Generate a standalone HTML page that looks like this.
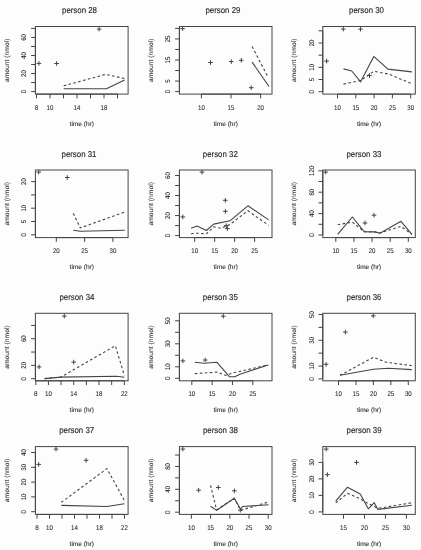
<!DOCTYPE html>
<html><head><meta charset="utf-8"><title>plots</title>
<style>
html,body{margin:0;padding:0;background:#fdfdfd;}
body{width:421px;height:550px;overflow:hidden;}
svg{display:block;will-change:transform;}
text{font-family:"Liberation Sans",sans-serif;fill:#2a2a2a;text-anchor:middle;text-rendering:geometricPrecision;}
.tk{font-size:6.9px;stroke:#2a2a2a;stroke-width:0.08px;}
.lb{font-size:6.4px;stroke:#2a2a2a;stroke-width:0.08px;}
.ti{font-size:8.6px;stroke:#2a2a2a;stroke-width:0.15px;}
.ax{fill:none;stroke:#444444;stroke-width:1;}
.sl{fill:none;stroke:#444444;stroke-width:1.1;stroke-linejoin:round;}
.dl{fill:none;stroke:#444444;stroke-width:1.1;stroke-dasharray:2.6 2.4;}
.pt{fill:none;stroke:#444444;stroke-width:1;}
</style></head>
<body>
<svg width="421" height="550" viewBox="0 0 421 550">
<rect width="421" height="550" fill="#fdfdfd"/>
<!-- person 28 -->
<g><rect x="35.4" y="26.5" width="92.7" height="67.6" class="ax"/>
<path d="M36.5 94.1v4.3 M50 94.1v4.3 M63.5 94.1v4.3 M77 94.1v4.3 M90.5 94.1v4.3 M104 94.1v4.3 M117.5 94.1v4.3 M36.5 94.1H117.5 M35.4 91.6h-4.3 M35.4 82.57h-4.3 M35.4 73.54h-4.3 M35.4 64.51h-4.3 M35.4 55.49h-4.3 M35.4 46.46h-4.3 M35.4 37.43h-4.3 M35.4 28.4h-4.3 M35.4 91.6V28.4" class="ax"/>
<text x="36.5" y="109.7" class="tk" textLength="3.5" lengthAdjust="spacingAndGlyphs">8</text>
<text x="50" y="109.7" class="tk" textLength="6.8" lengthAdjust="spacingAndGlyphs">10</text>
<text x="77" y="109.7" class="tk" textLength="6.8" lengthAdjust="spacingAndGlyphs">14</text>
<text x="104" y="109.7" class="tk" textLength="6.8" lengthAdjust="spacingAndGlyphs">18</text>
<text transform="translate(26.4 91.6) rotate(-90)" class="tk" textLength="3.5" lengthAdjust="spacingAndGlyphs">0</text>
<text transform="translate(26.4 73.54) rotate(-90)" class="tk" textLength="6.8" lengthAdjust="spacingAndGlyphs">20</text>
<text transform="translate(26.4 55.49) rotate(-90)" class="tk" textLength="6.8" lengthAdjust="spacingAndGlyphs">40</text>
<text transform="translate(26.4 37.43) rotate(-90)" class="tk" textLength="6.8" lengthAdjust="spacingAndGlyphs">60</text>
<text x="79.5" y="12.7" class="ti" textLength="35" lengthAdjust="spacingAndGlyphs">person 28</text>
<text x="81.75" y="125.6" class="lb" textLength="24.3" lengthAdjust="spacingAndGlyphs">time (hr)</text>
<text transform="translate(9 60.3) rotate(-90)" class="lb" textLength="43.4" lengthAdjust="spacingAndGlyphs">amount (nmol)</text>
<polyline points="63.7,88.7 106.5,88.7 124.6,79.9" class="sl"/>
<polyline points="63.7,85.8 105.7,74.4 124.5,78.5" class="dl"/>
<path d="M36.6 63.4h4.6M38.9 61.1v4.6 M54.3 63.5h4.6M56.6 61.2v4.6 M96.8 29.1h4.6M99.1 26.8v4.6" class="pt"/></g>
<!-- person 29 -->
<g><rect x="179.4" y="26.5" width="92.6" height="67.6" class="ax"/>
<path d="M201.4 94.1v4.3 M231 94.1v4.3 M260.6 94.1v4.3 M201.4 94.1H260.6 M179.4 91.6h-4.3 M179.4 81.07h-4.3 M179.4 70.53h-4.3 M179.4 60h-4.3 M179.4 49.47h-4.3 M179.4 38.93h-4.3 M179.4 28.4h-4.3 M179.4 91.6V28.4" class="ax"/>
<text x="201.4" y="109.7" class="tk" textLength="6.8" lengthAdjust="spacingAndGlyphs">10</text>
<text x="231" y="109.7" class="tk" textLength="6.8" lengthAdjust="spacingAndGlyphs">15</text>
<text x="260.6" y="109.7" class="tk" textLength="6.8" lengthAdjust="spacingAndGlyphs">20</text>
<text transform="translate(170.4 91.6) rotate(-90)" class="tk" textLength="3.5" lengthAdjust="spacingAndGlyphs">0</text>
<text transform="translate(170.4 81.07) rotate(-90)" class="tk" textLength="3.5" lengthAdjust="spacingAndGlyphs">5</text>
<text transform="translate(170.4 60) rotate(-90)" class="tk" textLength="6.8" lengthAdjust="spacingAndGlyphs">15</text>
<text transform="translate(170.4 38.93) rotate(-90)" class="tk" textLength="6.8" lengthAdjust="spacingAndGlyphs">25</text>
<text x="222.9" y="12.6" class="ti" textLength="35" lengthAdjust="spacingAndGlyphs">person 29</text>
<text x="225.7" y="125.6" class="lb" textLength="24.3" lengthAdjust="spacingAndGlyphs">time (hr)</text>
<text transform="translate(153 60.3) rotate(-90)" class="lb" textLength="43.4" lengthAdjust="spacingAndGlyphs">amount (nmol)</text>
<polyline points="252.1,62.1 269,86.5" class="sl"/>
<polyline points="252.1,46.6 268.2,77.4" class="dl"/>
<path d="M180.3 28.6h4.6M182.6 26.3v4.6 M208.2 62.5h4.6M210.5 60.2v4.6 M229 61.6h4.6M231.3 59.3v4.6 M239 60.3h4.6M241.3 58v4.6 M248.9 87.7h4.6M251.2 85.4v4.6" class="pt"/></g>
<!-- person 30 -->
<g><rect x="322.8" y="26.5" width="92.5" height="67.6" class="ax"/>
<path d="M337.5 94.1v4.3 M355.8 94.1v4.3 M374.1 94.1v4.3 M392.4 94.1v4.3 M410.7 94.1v4.3 M337.5 94.1H410.7 M322.8 91.7h-4.3 M322.8 79.52h-4.3 M322.8 67.34h-4.3 M322.8 55.16h-4.3 M322.8 42.98h-4.3 M322.8 30.8h-4.3 M322.8 91.7V30.8" class="ax"/>
<text x="337.5" y="109.7" class="tk" textLength="6.8" lengthAdjust="spacingAndGlyphs">10</text>
<text x="355.8" y="109.7" class="tk" textLength="6.8" lengthAdjust="spacingAndGlyphs">15</text>
<text x="374.1" y="109.7" class="tk" textLength="6.8" lengthAdjust="spacingAndGlyphs">20</text>
<text x="392.4" y="109.7" class="tk" textLength="6.8" lengthAdjust="spacingAndGlyphs">25</text>
<text x="410.7" y="109.7" class="tk" textLength="6.8" lengthAdjust="spacingAndGlyphs">30</text>
<text transform="translate(313.8 91.7) rotate(-90)" class="tk" textLength="3.5" lengthAdjust="spacingAndGlyphs">0</text>
<text transform="translate(313.8 79.52) rotate(-90)" class="tk" textLength="3.5" lengthAdjust="spacingAndGlyphs">5</text>
<text transform="translate(313.8 67.34) rotate(-90)" class="tk" textLength="6.8" lengthAdjust="spacingAndGlyphs">10</text>
<text transform="translate(313.8 42.98) rotate(-90)" class="tk" textLength="6.8" lengthAdjust="spacingAndGlyphs">20</text>
<text x="366.5" y="12.6" class="ti" textLength="35" lengthAdjust="spacingAndGlyphs">person 30</text>
<text x="369.05" y="125.6" class="lb" textLength="24.3" lengthAdjust="spacingAndGlyphs">time (hr)</text>
<text transform="translate(296.4 60.3) rotate(-90)" class="lb" textLength="43.4" lengthAdjust="spacingAndGlyphs">amount (nmol)</text>
<polyline points="343.5,68.9 351.8,71 360.6,81.8 373.8,56.4 387.8,69.1 411.9,71.9" class="sl"/>
<polyline points="343.5,84.1 360.6,80.5 374,71.2 389,74.2 411.9,83.8" class="dl"/>
<path d="M324.3 61.1h4.6M326.6 58.8v4.6 M341 29.1h4.6M343.3 26.8v4.6 M358.2 29.1h4.6M360.5 26.8v4.6 M367.2 75.6h4.6M369.5 73.3v4.6" class="pt"/></g>
<!-- person 31 -->
<g><rect x="35.4" y="170" width="92.7" height="67.6" class="ax"/>
<path d="M56.3 237.6v4.3 M84.6 237.6v4.3 M112.9 237.6v4.3 M56.3 237.6H112.9 M35.4 234.8h-4.3 M35.4 221.5h-4.3 M35.4 208.2h-4.3 M35.4 194.9h-4.3 M35.4 181.6h-4.3 M35.4 234.8V181.6" class="ax"/>
<text x="56.3" y="253.2" class="tk" textLength="6.8" lengthAdjust="spacingAndGlyphs">20</text>
<text x="84.6" y="253.2" class="tk" textLength="6.8" lengthAdjust="spacingAndGlyphs">25</text>
<text x="112.9" y="253.2" class="tk" textLength="6.8" lengthAdjust="spacingAndGlyphs">30</text>
<text transform="translate(26.4 234.8) rotate(-90)" class="tk" textLength="3.5" lengthAdjust="spacingAndGlyphs">0</text>
<text transform="translate(26.4 221.5) rotate(-90)" class="tk" textLength="3.5" lengthAdjust="spacingAndGlyphs">5</text>
<text transform="translate(26.4 208.2) rotate(-90)" class="tk" textLength="6.8" lengthAdjust="spacingAndGlyphs">10</text>
<text transform="translate(26.4 181.6) rotate(-90)" class="tk" textLength="6.8" lengthAdjust="spacingAndGlyphs">20</text>
<text x="79" y="156.9" class="ti" textLength="35" lengthAdjust="spacingAndGlyphs">person 31</text>
<text x="81.75" y="269.1" class="lb" textLength="24.3" lengthAdjust="spacingAndGlyphs">time (hr)</text>
<text transform="translate(9 203.8) rotate(-90)" class="lb" textLength="43.4" lengthAdjust="spacingAndGlyphs">amount (nmol)</text>
<polyline points="73.3,230.2 80.3,231.2 124.8,230.2" class="sl"/>
<polyline points="73.3,213.3 80.3,227.9 124.8,212" class="dl"/>
<path d="M36.4 172.1h4.6M38.7 169.8v4.6 M65 177.5h4.6M67.3 175.2v4.6" class="pt"/></g>
<!-- person 32 -->
<g><rect x="179.4" y="170" width="92.6" height="67.6" class="ax"/>
<path d="M194.7 237.6v4.3 M214.67 237.6v4.3 M234.63 237.6v4.3 M254.6 237.6v4.3 M194.7 237.6H254.6 M179.4 235.6h-4.3 M179.4 225.58h-4.3 M179.4 215.57h-4.3 M179.4 205.55h-4.3 M179.4 195.53h-4.3 M179.4 185.52h-4.3 M179.4 175.5h-4.3 M179.4 235.6V175.5" class="ax"/>
<text x="194.7" y="253.2" class="tk" textLength="6.8" lengthAdjust="spacingAndGlyphs">10</text>
<text x="214.67" y="253.2" class="tk" textLength="6.8" lengthAdjust="spacingAndGlyphs">15</text>
<text x="234.63" y="253.2" class="tk" textLength="6.8" lengthAdjust="spacingAndGlyphs">20</text>
<text x="254.6" y="253.2" class="tk" textLength="6.8" lengthAdjust="spacingAndGlyphs">25</text>
<text transform="translate(170.4 235.6) rotate(-90)" class="tk" textLength="3.5" lengthAdjust="spacingAndGlyphs">0</text>
<text transform="translate(170.4 215.57) rotate(-90)" class="tk" textLength="6.8" lengthAdjust="spacingAndGlyphs">20</text>
<text transform="translate(170.4 195.53) rotate(-90)" class="tk" textLength="6.8" lengthAdjust="spacingAndGlyphs">40</text>
<text transform="translate(170.4 175.5) rotate(-90)" class="tk" textLength="6.8" lengthAdjust="spacingAndGlyphs">60</text>
<text x="220.3" y="156.9" class="ti" textLength="35" lengthAdjust="spacingAndGlyphs">person 32</text>
<text x="225.7" y="269.1" class="lb" textLength="24.3" lengthAdjust="spacingAndGlyphs">time (hr)</text>
<text transform="translate(153 203.8) rotate(-90)" class="lb" textLength="43.4" lengthAdjust="spacingAndGlyphs">amount (nmol)</text>
<polyline points="191.1,228.3 197.1,226 206.4,230.5 213.7,224.1 229.9,220.8 247.9,205.8 268.7,219.9" class="sl"/>
<polyline points="191.1,233.7 197.1,233.2 206.4,233.8 213.7,226.8 221,228.4 229.9,224.4 247.9,210.8 268.7,225.4" class="dl"/>
<path d="M180.5 216.9h4.6M182.8 214.6v4.6 M199.7 172.1h4.6M202 169.8v4.6 M223 200.3h4.6M225.3 198v4.6 M223.1 211.3h4.6M225.4 209v4.6 M224 225.7h4.6M226.3 223.4v4.6 M225.1 228.6h4.6M227.4 226.3v4.6" class="pt"/></g>
<!-- person 33 -->
<g><rect x="322.8" y="170" width="92.5" height="67.6" class="ax"/>
<path d="M335.8 237.6v4.3 M353.93 237.6v4.3 M372.05 237.6v4.3 M390.18 237.6v4.3 M408.3 237.6v4.3 M335.8 237.6H408.3 M322.8 235h-4.3 M322.8 224.3h-4.3 M322.8 213.6h-4.3 M322.8 202.9h-4.3 M322.8 192.2h-4.3 M322.8 181.5h-4.3 M322.8 170.8h-4.3 M322.8 235V170.8" class="ax"/>
<text x="335.8" y="253.2" class="tk" textLength="6.8" lengthAdjust="spacingAndGlyphs">10</text>
<text x="353.93" y="253.2" class="tk" textLength="6.8" lengthAdjust="spacingAndGlyphs">15</text>
<text x="372.05" y="253.2" class="tk" textLength="6.8" lengthAdjust="spacingAndGlyphs">20</text>
<text x="390.18" y="253.2" class="tk" textLength="6.8" lengthAdjust="spacingAndGlyphs">25</text>
<text x="408.3" y="253.2" class="tk" textLength="6.8" lengthAdjust="spacingAndGlyphs">30</text>
<text transform="translate(313.8 235) rotate(-90)" class="tk" textLength="3.5" lengthAdjust="spacingAndGlyphs">0</text>
<text transform="translate(313.8 213.6) rotate(-90)" class="tk" textLength="6.8" lengthAdjust="spacingAndGlyphs">40</text>
<text transform="translate(313.8 192.2) rotate(-90)" class="tk" textLength="6.8" lengthAdjust="spacingAndGlyphs">80</text>
<text transform="translate(313.8 170.8) rotate(-90)" class="tk" textLength="10.2" lengthAdjust="spacingAndGlyphs">120</text>
<text x="363.9" y="156.9" class="ti" textLength="35" lengthAdjust="spacingAndGlyphs">person 33</text>
<text x="369.05" y="269.1" class="lb" textLength="24.3" lengthAdjust="spacingAndGlyphs">time (hr)</text>
<text transform="translate(296.4 203.8) rotate(-90)" class="lb" textLength="43.4" lengthAdjust="spacingAndGlyphs">amount (nmol)</text>
<polyline points="337.7,234.4 352.3,217 364.4,231.8 375,231.9 380,233.3 401,221.3 411.9,234.3" class="sl"/>
<polyline points="337.7,224.8 352.3,222 364.4,231.8 375,232 380,233 401,226.4 411.9,234.3" class="dl"/>
<path d="M323.4 172.1h4.6M325.7 169.8v4.6 M362.7 223h4.6M365 220.7v4.6 M371.7 215.2h4.6M374 212.9v4.6" class="pt"/></g>
<!-- person 34 -->
<g><rect x="35.4" y="313.3" width="92.7" height="67.5" class="ax"/>
<path d="M35.8 380.8v4.3 M48.44 380.8v4.3 M61.09 380.8v4.3 M73.73 380.8v4.3 M86.37 380.8v4.3 M99.01 380.8v4.3 M111.66 380.8v4.3 M124.3 380.8v4.3 M35.8 380.8H124.3 M35.4 378.7h-4.3 M35.4 365.38h-4.3 M35.4 352.05h-4.3 M35.4 338.72h-4.3 M35.4 325.4h-4.3 M35.4 378.7V325.4" class="ax"/>
<text x="35.8" y="396.4" class="tk" textLength="3.5" lengthAdjust="spacingAndGlyphs">8</text>
<text x="48.44" y="396.4" class="tk" textLength="6.8" lengthAdjust="spacingAndGlyphs">10</text>
<text x="73.73" y="396.4" class="tk" textLength="6.8" lengthAdjust="spacingAndGlyphs">14</text>
<text x="99.01" y="396.4" class="tk" textLength="6.8" lengthAdjust="spacingAndGlyphs">18</text>
<text x="124.3" y="396.4" class="tk" textLength="6.8" lengthAdjust="spacingAndGlyphs">22</text>
<text transform="translate(26.4 378.7) rotate(-90)" class="tk" textLength="3.5" lengthAdjust="spacingAndGlyphs">0</text>
<text transform="translate(26.4 365.38) rotate(-90)" class="tk" textLength="6.8" lengthAdjust="spacingAndGlyphs">20</text>
<text transform="translate(26.4 338.72) rotate(-90)" class="tk" textLength="6.8" lengthAdjust="spacingAndGlyphs">60</text>
<text x="76.9" y="299.7" class="ti" textLength="35" lengthAdjust="spacingAndGlyphs">person 34</text>
<text x="81.75" y="412.3" class="lb" textLength="24.3" lengthAdjust="spacingAndGlyphs">time (hr)</text>
<text transform="translate(9 347.05) rotate(-90)" class="lb" textLength="43.4" lengthAdjust="spacingAndGlyphs">amount (nmol)</text>
<polyline points="44.6,378.6 60.8,377.1 116.6,376.3 124.4,377.2" class="sl"/>
<polyline points="44.6,378.6 60.8,377.1 115.4,345.8 124.4,375.7" class="dl"/>
<path d="M36.8 366.9h4.6M39.1 364.6v4.6 M62 316.1h4.6M64.3 313.8v4.6 M71.4 362.1h4.6M73.7 359.8v4.6" class="pt"/></g>
<!-- person 35 -->
<g><rect x="179.4" y="313.3" width="92.6" height="67.5" class="ax"/>
<path d="M191.8 380.8v4.3 M212.13 380.8v4.3 M232.47 380.8v4.3 M252.8 380.8v4.3 M191.8 380.8H252.8 M179.4 378.3h-4.3 M179.4 366.8h-4.3 M179.4 355.3h-4.3 M179.4 343.8h-4.3 M179.4 332.3h-4.3 M179.4 320.8h-4.3 M179.4 378.3V320.8" class="ax"/>
<text x="191.8" y="396.4" class="tk" textLength="6.8" lengthAdjust="spacingAndGlyphs">10</text>
<text x="212.13" y="396.4" class="tk" textLength="6.8" lengthAdjust="spacingAndGlyphs">15</text>
<text x="232.47" y="396.4" class="tk" textLength="6.8" lengthAdjust="spacingAndGlyphs">20</text>
<text x="252.8" y="396.4" class="tk" textLength="6.8" lengthAdjust="spacingAndGlyphs">25</text>
<text transform="translate(170.4 378.3) rotate(-90)" class="tk" textLength="3.5" lengthAdjust="spacingAndGlyphs">0</text>
<text transform="translate(170.4 366.8) rotate(-90)" class="tk" textLength="6.8" lengthAdjust="spacingAndGlyphs">10</text>
<text transform="translate(170.4 343.8) rotate(-90)" class="tk" textLength="6.8" lengthAdjust="spacingAndGlyphs">30</text>
<text transform="translate(170.4 320.8) rotate(-90)" class="tk" textLength="6.8" lengthAdjust="spacingAndGlyphs">50</text>
<text x="220.3" y="299.5" class="ti" textLength="35" lengthAdjust="spacingAndGlyphs">person 35</text>
<text x="225.7" y="412.3" class="lb" textLength="24.3" lengthAdjust="spacingAndGlyphs">time (hr)</text>
<text transform="translate(153 347.05) rotate(-90)" class="lb" textLength="43.4" lengthAdjust="spacingAndGlyphs">amount (nmol)</text>
<polyline points="194.8,362.3 204.3,363.2 217,362.3 229.4,376.6 234.7,376.7 240,374.2 268.2,364.9" class="sl"/>
<polyline points="194.8,373.6 217.3,372.1 225.6,375.4 232.8,373 268.2,364.9" class="dl"/>
<path d="M180.6 360.9h4.6M182.9 358.6v4.6 M202.9 360h4.6M205.2 357.7v4.6 M221 316.2h4.6M223.3 313.9v4.6" class="pt"/></g>
<!-- person 36 -->
<g><rect x="322.8" y="313.3" width="92.5" height="67.5" class="ax"/>
<path d="M338.5 380.8v4.3 M355.95 380.8v4.3 M373.4 380.8v4.3 M390.85 380.8v4.3 M408.3 380.8v4.3 M338.5 380.8H408.3 M322.8 378.9h-4.3 M322.8 366.02h-4.3 M322.8 353.14h-4.3 M322.8 340.26h-4.3 M322.8 327.38h-4.3 M322.8 314.5h-4.3 M322.8 378.9V314.5" class="ax"/>
<text x="338.5" y="396.4" class="tk" textLength="6.8" lengthAdjust="spacingAndGlyphs">10</text>
<text x="355.95" y="396.4" class="tk" textLength="6.8" lengthAdjust="spacingAndGlyphs">15</text>
<text x="373.4" y="396.4" class="tk" textLength="6.8" lengthAdjust="spacingAndGlyphs">20</text>
<text x="390.85" y="396.4" class="tk" textLength="6.8" lengthAdjust="spacingAndGlyphs">25</text>
<text x="408.3" y="396.4" class="tk" textLength="6.8" lengthAdjust="spacingAndGlyphs">30</text>
<text transform="translate(313.8 378.9) rotate(-90)" class="tk" textLength="3.5" lengthAdjust="spacingAndGlyphs">0</text>
<text transform="translate(313.8 366.02) rotate(-90)" class="tk" textLength="6.8" lengthAdjust="spacingAndGlyphs">10</text>
<text transform="translate(313.8 340.26) rotate(-90)" class="tk" textLength="6.8" lengthAdjust="spacingAndGlyphs">30</text>
<text transform="translate(313.8 314.5) rotate(-90)" class="tk" textLength="6.8" lengthAdjust="spacingAndGlyphs">50</text>
<text x="364" y="299.5" class="ti" textLength="35" lengthAdjust="spacingAndGlyphs">person 36</text>
<text x="369.05" y="412.3" class="lb" textLength="24.3" lengthAdjust="spacingAndGlyphs">time (hr)</text>
<text transform="translate(296.4 347.05) rotate(-90)" class="lb" textLength="43.4" lengthAdjust="spacingAndGlyphs">amount (nmol)</text>
<polyline points="340,375.3 373.3,369.3 388.1,368.2 411.8,369.6" class="sl"/>
<polyline points="340,375.3 373.4,357.3 386.2,362.3 411.8,365.6" class="dl"/>
<path d="M323.8 364.3h4.6M326.1 362v4.6 M343.1 332.1h4.6M345.4 329.8v4.6 M371 315.8h4.6M373.3 313.5v4.6" class="pt"/></g>
<!-- person 37 -->
<g><rect x="35.4" y="446.6" width="92.7" height="67.8" class="ax"/>
<path d="M37 514.4v4.3 M49.5 514.4v4.3 M62 514.4v4.3 M74.5 514.4v4.3 M87 514.4v4.3 M99.5 514.4v4.3 M112 514.4v4.3 M124.5 514.4v4.3 M37 514.4H124.5 M35.4 511.7h-4.3 M35.4 496.9h-4.3 M35.4 482.1h-4.3 M35.4 467.3h-4.3 M35.4 452.5h-4.3 M35.4 511.7V452.5" class="ax"/>
<text x="37" y="530" class="tk" textLength="3.5" lengthAdjust="spacingAndGlyphs">8</text>
<text x="49.5" y="530" class="tk" textLength="6.8" lengthAdjust="spacingAndGlyphs">10</text>
<text x="74.5" y="530" class="tk" textLength="6.8" lengthAdjust="spacingAndGlyphs">14</text>
<text x="99.5" y="530" class="tk" textLength="6.8" lengthAdjust="spacingAndGlyphs">18</text>
<text x="124.5" y="530" class="tk" textLength="6.8" lengthAdjust="spacingAndGlyphs">22</text>
<text transform="translate(26.4 511.7) rotate(-90)" class="tk" textLength="3.5" lengthAdjust="spacingAndGlyphs">0</text>
<text transform="translate(26.4 496.9) rotate(-90)" class="tk" textLength="6.8" lengthAdjust="spacingAndGlyphs">10</text>
<text transform="translate(26.4 482.1) rotate(-90)" class="tk" textLength="6.8" lengthAdjust="spacingAndGlyphs">20</text>
<text transform="translate(26.4 467.3) rotate(-90)" class="tk" textLength="6.8" lengthAdjust="spacingAndGlyphs">30</text>
<text transform="translate(26.4 452.5) rotate(-90)" class="tk" textLength="6.8" lengthAdjust="spacingAndGlyphs">40</text>
<text x="76.7" y="432.5" class="ti" textLength="35" lengthAdjust="spacingAndGlyphs">person 37</text>
<text x="81.75" y="545.9" class="lb" textLength="24.3" lengthAdjust="spacingAndGlyphs">time (hr)</text>
<text transform="translate(9 480.5) rotate(-90)" class="lb" textLength="43.4" lengthAdjust="spacingAndGlyphs">amount (nmol)</text>
<polyline points="61.3,505.4 106.9,506.5 124.5,503.7" class="sl"/>
<polyline points="61.3,502.4 106.9,468.6 124.5,500.7" class="dl"/>
<path d="M36.4 464.4h4.6M38.7 462.1v4.6 M53.7 449.1h4.6M56 446.8v4.6 M83.8 460.3h4.6M86.1 458v4.6" class="pt"/></g>
<!-- person 38 -->
<g><rect x="179.4" y="446.6" width="92.6" height="67.8" class="ax"/>
<path d="M191.4 514.4v4.3 M210.6 514.4v4.3 M229.8 514.4v4.3 M249 514.4v4.3 M268.2 514.4v4.3 M191.4 514.4H268.2 M179.4 512.2h-4.3 M179.4 500.76h-4.3 M179.4 489.32h-4.3 M179.4 477.88h-4.3 M179.4 466.44h-4.3 M179.4 455h-4.3 M179.4 512.2V455" class="ax"/>
<text x="191.4" y="530" class="tk" textLength="6.8" lengthAdjust="spacingAndGlyphs">10</text>
<text x="210.6" y="530" class="tk" textLength="6.8" lengthAdjust="spacingAndGlyphs">15</text>
<text x="229.8" y="530" class="tk" textLength="6.8" lengthAdjust="spacingAndGlyphs">20</text>
<text x="249" y="530" class="tk" textLength="6.8" lengthAdjust="spacingAndGlyphs">25</text>
<text x="268.2" y="530" class="tk" textLength="6.8" lengthAdjust="spacingAndGlyphs">30</text>
<text transform="translate(170.4 512.2) rotate(-90)" class="tk" textLength="3.5" lengthAdjust="spacingAndGlyphs">0</text>
<text transform="translate(170.4 489.32) rotate(-90)" class="tk" textLength="6.8" lengthAdjust="spacingAndGlyphs">40</text>
<text transform="translate(170.4 466.44) rotate(-90)" class="tk" textLength="6.8" lengthAdjust="spacingAndGlyphs">80</text>
<text x="220.4" y="432.5" class="ti" textLength="35" lengthAdjust="spacingAndGlyphs">person 38</text>
<text x="225.7" y="545.9" class="lb" textLength="24.3" lengthAdjust="spacingAndGlyphs">time (hr)</text>
<text transform="translate(153 480.5) rotate(-90)" class="lb" textLength="43.4" lengthAdjust="spacingAndGlyphs">amount (nmol)</text>
<polyline points="210.5,506.2 216.6,510.4 234.3,498.2 240.6,509.3 242.6,506.5 268.5,504.8" class="sl"/>
<polyline points="210.5,485.3 216.6,509.8 234.3,498.3 240.6,510.3 268.5,502" class="dl"/>
<path d="M180.5 449.1h4.6M182.8 446.8v4.6 M196.3 490.2h4.6M198.6 487.9v4.6 M216 487.5h4.6M218.3 485.2v4.6 M232.1 490.8h4.6M234.4 488.5v4.6 M238 510.2h4.6M240.3 507.9v4.6" class="pt"/></g>
<!-- person 39 -->
<g><rect x="322.8" y="446.6" width="92.5" height="67.8" class="ax"/>
<path d="M343.5 514.4v4.3 M364.47 514.4v4.3 M385.43 514.4v4.3 M406.4 514.4v4.3 M343.5 514.4H406.4 M322.8 511.9h-4.3 M322.8 495.4h-4.3 M322.8 478.9h-4.3 M322.8 462.4h-4.3 M322.8 511.9V462.4" class="ax"/>
<text x="343.5" y="530" class="tk" textLength="6.8" lengthAdjust="spacingAndGlyphs">15</text>
<text x="364.47" y="530" class="tk" textLength="6.8" lengthAdjust="spacingAndGlyphs">20</text>
<text x="385.43" y="530" class="tk" textLength="6.8" lengthAdjust="spacingAndGlyphs">25</text>
<text x="406.4" y="530" class="tk" textLength="6.8" lengthAdjust="spacingAndGlyphs">30</text>
<text transform="translate(313.8 511.9) rotate(-90)" class="tk" textLength="3.5" lengthAdjust="spacingAndGlyphs">0</text>
<text transform="translate(313.8 495.4) rotate(-90)" class="tk" textLength="6.8" lengthAdjust="spacingAndGlyphs">10</text>
<text transform="translate(313.8 478.9) rotate(-90)" class="tk" textLength="6.8" lengthAdjust="spacingAndGlyphs">20</text>
<text transform="translate(313.8 462.4) rotate(-90)" class="tk" textLength="6.8" lengthAdjust="spacingAndGlyphs">30</text>
<text x="364.1" y="432.5" class="ti" textLength="35" lengthAdjust="spacingAndGlyphs">person 39</text>
<text x="369.05" y="545.9" class="lb" textLength="24.3" lengthAdjust="spacingAndGlyphs">time (hr)</text>
<text transform="translate(296.4 480.5) rotate(-90)" class="lb" textLength="43.4" lengthAdjust="spacingAndGlyphs">amount (nmol)</text>
<polyline points="335.7,501.2 347.5,487.2 360.2,494 368.3,508.8 374.2,502.7 377.9,509.4 411.8,505.2" class="sl"/>
<polyline points="335.7,502.9 347.5,493.4 360.2,498.8 368.3,503.6 377.9,508.4 411.8,502.7" class="dl"/>
<path d="M323.9 449.1h4.6M326.2 446.8v4.6 M325.1 474.6h4.6M327.4 472.3v4.6 M354.2 462.4h4.6M356.5 460.1v4.6" class="pt"/></g>
</svg>
</body></html>
